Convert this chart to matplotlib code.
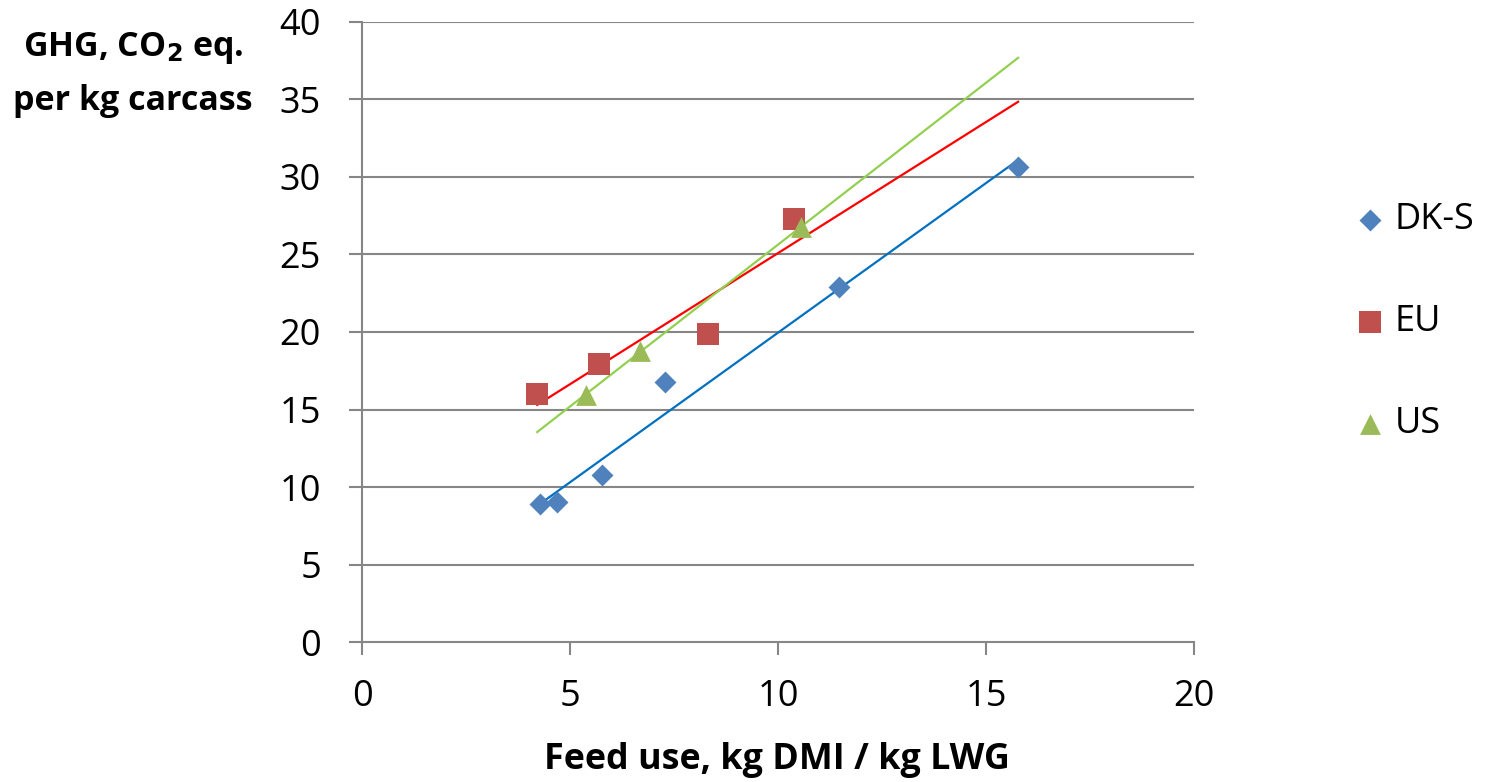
import matplotlib.pyplot as plt
import numpy as np

plt.rcParams['font.family'] = ['Open Sans', 'DejaVu Sans']

# values
dk_x = [4.28, 4.69, 5.77, 7.28, 11.47, 15.77]
dk_y = [8.9, 9.03, 10.77, 16.77, 22.9, 30.65]
eu_x = [4.21, 5.70, 8.32, 10.38]
eu_y = [16.0, 17.94, 19.87, 27.29]
us_x = [5.38, 6.68, 10.55]
us_y = [15.94, 18.77, 26.77]
series_names = ['DK-S', 'EU', 'US']

x_ticks = [0, 5, 10, 15, 20]
y_ticks = [0, 5, 10, 15, 20, 25, 30, 35, 40]

fig = plt.figure(figsize=(14.85, 7.82), dpi=100)
ax = fig.add_axes([0.2438, 0.179, 0.5603, 0.7929])

grid_c = '#868686'
for yv in y_ticks[1:]:
    ax.axhline(yv, color=grid_c, lw=1.5, zorder=0)

# trend lines span the full x range of all data
lo = min(dk_x + eu_x + us_x)
hi = max(dk_x + eu_x + us_x)
xs = np.array([lo, hi])
for xd, yd, c in [(dk_x, dk_y, '#0070C0'), (eu_x, eu_y, '#FF0000'), (us_x, us_y, '#92D050')]:
    k, b = np.polyfit(xd, yd, 1)
    ax.plot(xs, k * xs + b, color=c, lw=1.6, zorder=2)

ax.scatter(dk_x, dk_y, marker='D', s=125, color='#4F81BD', label=series_names[0], zorder=3, linewidths=0)
ax.scatter(eu_x, eu_y, marker='s', s=235, color='#C0504D', label=series_names[1], zorder=3, linewidths=0)
ax.scatter(us_x, us_y, marker='^', s=225, color='#9BBB59', label=series_names[2], zorder=3, linewidths=0)

ax.set_xlim(0, 20)
ax.set_ylim(0, 40)
ax.set_xticks(x_ticks)
ax.set_yticks(y_ticks)
for s in ['top', 'right']:
    ax.spines[s].set_visible(False)
for s in ['left', 'bottom']:
    ax.spines[s].set_color(grid_c)
    ax.spines[s].set_linewidth(1.5)
ax.tick_params(colors=grid_c, length=9.5, width=1.5, labelsize=26, labelcolor='black')
ax.tick_params(axis='x', pad=17)
ax.tick_params(axis='y', pad=20)

fig.text(0.5232, 0.0166, 'Feed use, kg DMI / kg LWG', fontsize=25.8, fontweight='bold',
         ha='center', va='baseline')
fig.text(0.0896, 0.928, 'GHG, CO$_\\mathbf{2}$ eq.', fontsize=24.5, fontweight='bold',
         ha='center', va='baseline')
fig.text(0.0896, 0.859, 'per kg carcass', fontsize=24.5, fontweight='bold',
         ha='center', va='baseline')

ax.legend(loc='center left', bbox_to_anchor=(1.1935, 0.516), frameon=False, fontsize=26,
          labelspacing=1.83, handlelength=0.8, handletextpad=0.3, borderpad=0,
          borderaxespad=0, scatterpoints=1)

fig.savefig('out.png', dpi=100)
